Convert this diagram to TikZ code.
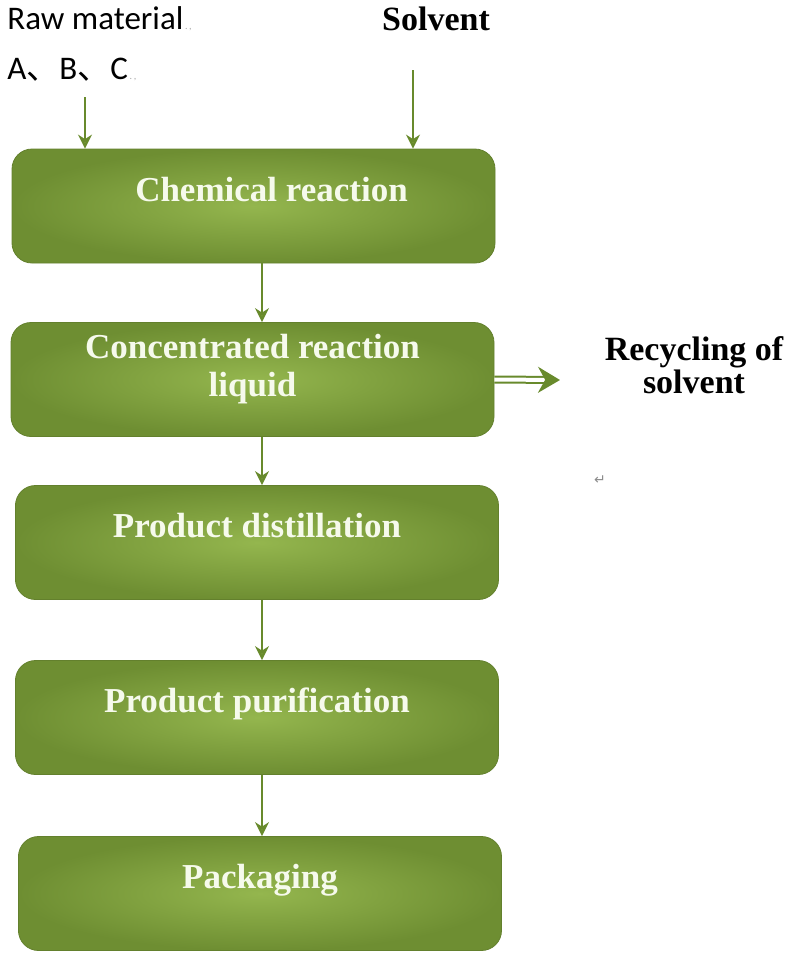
\documentclass[tikz,border=0pt]{standalone}
\usepackage{fontspec}
\setmainfont{Liberation Serif}
\newfontfamily\calib{Carlito}
\newfontfamily\cjk{Noto Sans CJK SC}
\newfontfamily\dejavu{DejaVu Sans}
\usetikzlibrary{arrows.meta,positioning}
\definecolor{boxdark}{RGB}{110,142,50}
\definecolor{boxlight}{RGB}{148,182,78}
\definecolor{arrowgreen}{RGB}{104,138,44}
\definecolor{headfill}{RGB}{138,172,66}
\definecolor{boxtext}{RGB}{246,250,236}
\tikzset{
stepbox/.style={rounded corners=10pt,minimum width=241.5pt,minimum height=57pt,
  shading=radial,inner color=boxlight,outer color=boxdark,draw=boxdark!90!black,line width=.4pt,
  text height=12pt,text depth=17pt,
  text=boxtext,align=center,font=\bfseries\fontsize{17.5}{19}\selectfont},
flowarrow/.style={arrowgreen,line width=1.2pt,-{Stealth[length=7pt,width=7pt,fill=headfill]}},
recyarrow/.style={draw=arrowgreen,double=white,double distance=2pt,line width=1pt,
  -{Stealth[length=11pt,width=13pt,fill=arrowgreen]}},
inlabel/.style={anchor=west,inner sep=0pt}
}
\begin{document}
\begin{tikzpicture}[x=0.5pt,y=-0.5pt]
\useasboundingbox (0,0) rectangle (795,955);
\node[stepbox] (react) at (253.5,206) {\hspace{18pt}Chemical reaction};
\node[stepbox,text height=31pt,text depth=14pt] (conc) at (252.5,379.5) {Concentrated reaction\\liquid};
\node[stepbox] (distil) at (257,542.5) {Product distillation};
\node[stepbox] (purify) at (257,717.5) {Product purification};
\node[stepbox] (pack) at (260,893.5) {Packaging};
\node[inlabel,font=\calib\fontsize{16.5}{18}\selectfont] (raw) at (7,19) {Raw material\textcolor{black!35}{\fontsize{5}{5}\selectfont\,.\,,}};
\node[inlabel,font=\calib\fontsize{16.5}{18}\selectfont] (abc) at (7,70) {A{\cjk 、}B{\cjk 、}C\textcolor{black!35}{\fontsize{5}{5}\selectfont\,.\,,}};
\node[font=\bfseries\fontsize{17}{18}\selectfont] (solvent) at (436,19) {Solvent};
\node[font=\bfseries\fontsize{17}{14}\selectfont,align=center] (recycle) at (694,365) {Recycling of\\solvent};
\node[font=\dejavu\fontsize{7}{7}\selectfont,text=black!45] (ret) at (600,480) {↵};
\coordinate (rawin) at (85,97);
\coordinate (solvin) at (413,70);
\coordinate (recyout) at (560,380);
\draw[flowarrow] (rawin) -- (rawin |- react.north);
\draw[flowarrow] (solvin) -- (solvin |- react.north);
\draw[flowarrow] (react.south -| 262,0) -- (conc.north -| 262,0);
\draw[flowarrow] (conc.south -| 262,0) -- (distil.north -| 262,0);
\draw[flowarrow] (distil.south -| 262,0) -- (purify.north -| 262,0);
\draw[flowarrow] (purify.south -| 262,0) -- (pack.north -| 262,0);
\draw[recyarrow] (conc.east) -- (recyout);
\end{tikzpicture}
\end{document}
